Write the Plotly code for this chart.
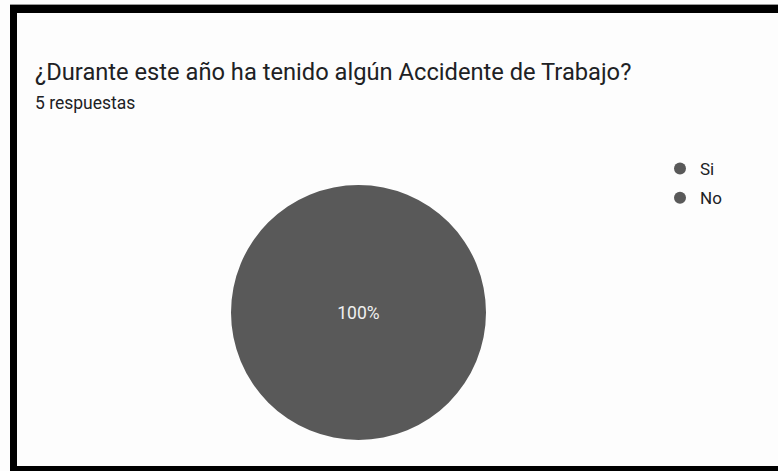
import plotly.graph_objects as go

W, H = 778, 471

title = "¿Durante este año ha tenido algún Accidente de Trabajo?"
subtitle = "5 respuestas"
labels = ["Si", "No"]
values = [0, 5]
colors = ["#595959", "#595959"]

def px(x):
    return x / W

def py(y):
    return 1 - y / H

fig = go.Figure()

fig.add_trace(go.Pie(
    labels=labels,
    values=values,
    marker=dict(colors=colors, line=dict(width=0)),
    sort=False,
    textinfo="percent",
    texttemplate="%{percent:.0%}",
    textposition="inside",
    insidetextfont=dict(family="Roboto", size=17.5, color="#f0f0f0"),
    domain=dict(x=[px(231), px(486)], y=[py(440), py(185)]),
    showlegend=False,
    hoverinfo="label+percent",
))

for i, lab in enumerate(labels):
    fig.add_trace(go.Scatter(
        x=[None], y=[None], mode="markers", name=lab,
        legendgroup=lab,
        marker=dict(symbol="circle", size=16, color=colors[i]),
        showlegend=True,
    ))

fig.update_xaxes(visible=False)
fig.update_yaxes(visible=False)

shapes = [
    dict(type="rect", xref="paper", yref="paper", x0=px(10), x1=1, y0=py(13), y1=py(5),
         fillcolor="black", line=dict(width=0), layer="above"),
    dict(type="rect", xref="paper", yref="paper", x0=px(10), x1=px(17), y0=0, y1=py(5),
         fillcolor="black", line=dict(width=0), layer="above"),
    dict(type="rect", xref="paper", yref="paper", x0=px(10), x1=1, y0=0, y1=py(466),
         fillcolor="black", line=dict(width=0), layer="above"),
    dict(type="line", xref="paper", yref="paper", x0=px(10), x1=1, y0=py(4.5), y1=py(4.5),
         line=dict(color="#9a9a9a", width=1), layer="above"),
]

annotations = [
    dict(text=title, xref="paper", yref="paper", x=px(33), y=py(72), xanchor="left", yanchor="middle",
         showarrow=False, font=dict(family="Roboto", size=23.7, color="#202124")),
    dict(text=subtitle, xref="paper", yref="paper", x=px(33), y=py(103), xanchor="left", yanchor="middle",
         showarrow=False, font=dict(family="Roboto", size=17.5, color="#202124")),
]

fig.update_layout(
    width=W, height=H,
    margin=dict(l=0, r=0, t=0, b=0),
    paper_bgcolor="#fdfdfd",
    plot_bgcolor="#fdfdfd",
    shapes=shapes,
    annotations=annotations,
    showlegend=True,
    legend=dict(x=px(660), y=py(151), xanchor="left", yanchor="top",
                font=dict(family="Roboto", size=17, color="#202124"),
                bgcolor="rgba(0,0,0,0)", tracegroupgap=4, itemsizing="constant"),
    font=dict(family="Roboto"),
)

fig.write_html("out.html", config={"displayModeBar": False},
               post_script="document.body.style.margin='0';document.body.style.overflow='hidden';")
